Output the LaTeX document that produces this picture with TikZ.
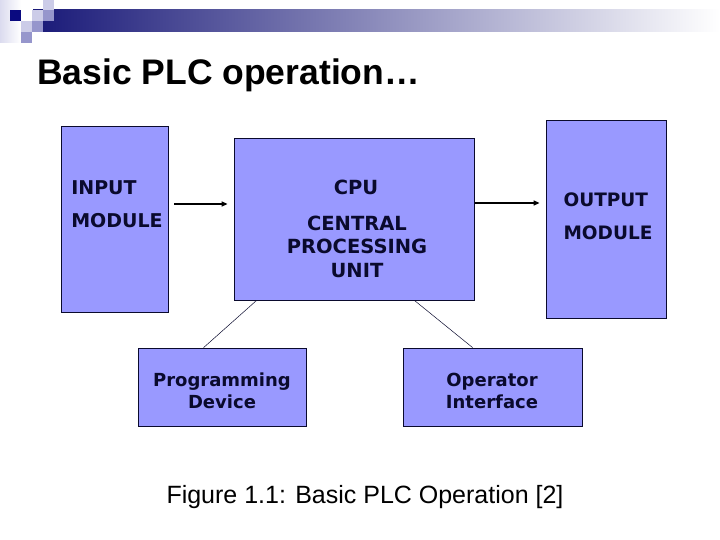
\documentclass[tikz,border=0pt]{standalone}
\usepackage{fontspec}
\usepackage{tikz}
\usetikzlibrary{arrows.meta}
\newfontfamily\vfont{DejaVu Sans}
\newfontfamily\afont{Liberation Sans}
\definecolor{boxblue}{RGB}{153,153,255}
\definecolor{inkblue}{RGB}{10,10,45}
\definecolor{sqdark}{RGB}{10,10,128}
\definecolor{sqmid}{RGB}{150,150,204}
\definecolor{sqlight}{RGB}{204,204,232}
\definecolor{barnavy}{RGB}{25,25,120}

\begin{document}
\begin{tikzpicture}[x=1pt,y=-1pt,
    box/.style={draw=inkblue,line width=0.8pt,fill=boxblue,inner sep=0pt},
    txt/.style={text=inkblue,font=\vfont\bfseries\fontsize{18}{22}\selectfont,inner sep=0pt},
    arr/.style={line width=1.6pt,-{Triangle[length=6pt,width=5pt]}},
    link/.style={line width=0.5pt,draw=inkblue}]
    \useasboundingbox (0,0) rectangle (720,540);
    % header
    \shade[left color=barnavy,right color=white] (33,10) rectangle (720,32);
    \shade[left color=sqlight!70,right color=white] (0,0) rectangle (21,43);
    \fill[sqdark] (10,10) rectangle (21,21);
    \fill[sqlight] (32,10) rectangle (43,21);
    \fill[sqlight] (43,0) rectangle (54,10);
    \fill[sqmid] (43,10) rectangle (54,21);
    \fill[sqlight] (21,21) rectangle (32,32);
    \fill[sqmid] (32,21) rectangle (43,32);
    \fill[sqmid] (21,32) rectangle (32,43);
    \node[anchor=base west,inner sep=0pt,font=\afont\bfseries\fontsize{35.5}{42}\selectfont] (title) at (37,85) {Basic PLC operation…};

    % blocks
    \node[box,minimum width=107pt,minimum height=186pt] (in) at (114.5,219) {};
    \node[box,minimum width=240pt,minimum height=162pt] (cpu) at (354,219) {};
    \node[box,minimum width=120pt,minimum height=198pt] (out) at (606,219) {};
    \node[box,minimum width=168pt,minimum height=78pt] (prog) at (222,387) {};
    \node[box,minimum width=179pt,minimum height=78pt] (op) at (492.5,387) {};

    \node[txt,align=left,font=\vfont\bfseries\fontsize{19}{33}\selectfont] (intxt) at (117,204.5) {INPUT\\MODULE};
    \node[txt,font=\vfont\bfseries\fontsize{19.5}{22}\selectfont] (cputxt) at (356,187) {CPU};
    \node[txt,align=center,font=\vfont\bfseries\fontsize{19.5}{23.5}\selectfont] (cpulong) at (357,246.5) {CENTRAL\\PROCESSING\\UNIT};
    \node[txt,align=left,font=\vfont\bfseries\fontsize{18.5}{33}\selectfont] (outtxt) at (608,216.5) {OUTPUT\\MODULE};
    \node[txt,align=center] (progtxt) at (222,391) {Programming\\Device};
    \node[txt,align=center] (optxt) at (492,391) {Operator\\Interface};

    % connectors
    \coordinate (ain) at (0,204);
    \coordinate (aout) at (0,203);
    \draw[arr,shorten <=6pt,shorten >=6pt] (in.east |- ain) -- (cpu.west |- ain);
    \draw[arr,shorten <=1pt,shorten >=6pt] (cpu.east |- aout) -- (out.west |- aout);
    \draw[link] ([xshift=23pt]cpu.south west) -- ([xshift=66pt]prog.north west);
    \draw[link] ([xshift=-60pt]cpu.south east) -- ([xshift=70pt]op.north west);

    \node[anchor=base,inner sep=0pt,font=\afont\fontsize{25}{30}\selectfont] (caption) at (365,503) {Figure 1.1: Basic PLC Operation [2]};
\end{tikzpicture}
\end{document}
